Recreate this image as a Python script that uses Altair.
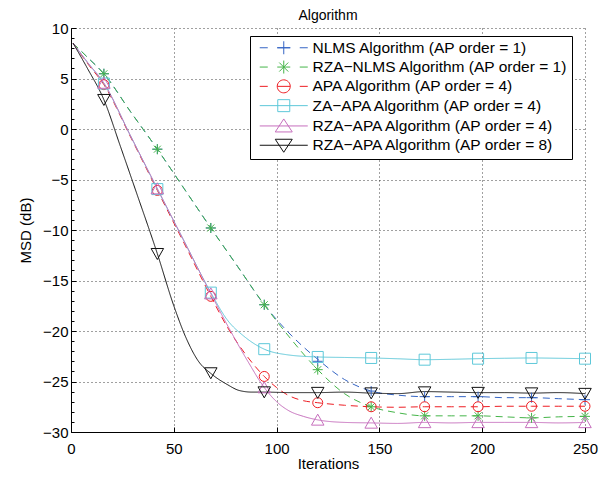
import altair as alt
import pandas as pd

# ---------------- data ----------------
SERIES = [
    "NLMS Algorithm (AP order = 1)",
    "RZA\u2212NLMS Algorithm (AP order = 1)",
    "APA Algorithm (AP order = 4)",
    "ZA\u2212APA Algorithm (AP order = 4)",
    "RZA\u2212APA Algorithm (AP order = 4)",
    "RZA\u2212APA Algorithm (AP order = 8)",
]

X_TICKS = [0, 50, 100, 150, 200, 250]
Y_TICKS = [-30, -25, -20, -15, -10, -5, 0, 5, 10]
Y_MINOR_TICKS = [-29, -28, -27, -26, -24, -23, -22, -21, -19, -18, -17, -16,
                 -14, -13, -12, -11, -9, -8, -7, -6, -4, -3, -2, -1,
                 1, 2, 3, 4, 6, 7, 8, 9]

MARKER_X = [16, 42, 68, 94, 120, 146, 172, 198, 224, 250]

NLMS_X = [1, 8, 16, 29, 42, 55, 68, 81, 94, 107, 120, 133, 146, 159, 172, 185, 198, 211, 224, 237, 250]
NLMS_Y = [8.5, 7.1, 5.47, 1.7, -2.0, -5.9, -9.8, -13.6, -17.4, -20.4, -22.8, -24.8, -25.95, -26.35,
          -26.5, -26.5, -26.5, -26.6, -26.6, -26.7, -26.8]
NLMS_M = [5.47, -2.0, -9.8, -17.4, -23.0, -25.95, -26.5, -26.5, -26.6, -26.8]

RZANLMS_X = [1, 8, 16, 29, 42, 55, 68, 81, 94, 107, 120, 133, 146, 159, 172, 185, 198, 211, 224, 237, 250]
RZANLMS_Y = [8.5, 7.1, 5.47, 1.7, -2.0, -5.9, -9.8, -13.6, -17.4, -20.8, -23.83, -26.2, -27.5, -28.1,
             -28.4, -28.4, -28.4, -28.5, -28.6, -28.5, -28.45]
RZANLMS_M = [5.47, -2.0, -9.8, -17.4, -23.83, -27.5, -28.4, -28.4, -28.6, -28.45]

APA_X = [1, 8, 16, 29, 42, 55, 68, 76, 86, 94, 100, 106, 113, 120, 133, 146, 159, 172, 185, 198, 211, 224, 237, 250]
APA_Y = [8.5, 6.5, 4.39, -0.8, -6.08, -11.3, -16.57, -19.6, -22.6, -24.5, -25.6, -26.4, -26.9, -27.1,
         -27.35, -27.5, -27.55, -27.5, -27.5, -27.5, -27.45, -27.45, -27.45, -27.45]
APA_M = [4.39, -6.08, -16.57, -24.5, -27.1, -27.5, -27.5, -27.5, -27.45, -27.45]

ZAAPA_X = [1, 8, 16, 29, 42, 55, 68, 76, 84, 94, 105, 120, 133, 146, 159, 172, 185, 198, 211, 224, 237, 250]
ZAAPA_Y = [8.5, 6.6, 4.5, -0.7, -5.95, -11.1, -16.2, -18.9, -20.5, -21.8, -22.35, -22.57, -22.62, -22.67,
           -22.75, -22.84, -22.8, -22.74, -22.7, -22.67, -22.7, -22.74]
ZAAPA_M = [4.5, -5.95, -16.2, -21.8, -22.57, -22.67, -22.84, -22.74, -22.67, -22.74]

RZAAPA4_X = [1, 8, 16, 29, 42, 55, 68, 76, 86, 94, 100, 106, 113, 120, 133, 146, 159, 172, 185, 198, 211, 224, 237, 250]
RZAAPA4_Y = [8.5, 6.6, 4.55, -0.7, -5.9, -11.1, -16.3, -19.4, -23.0, -25.6, -27.0, -27.9, -28.45, -28.8,
             -29.05, -29.1, -29.15, -29.05, -29.1, -29.05, -29.05, -29.05, -29.1, -29.05]
RZAAPA4_M = [4.55, -5.9, -16.3, -25.6, -28.8, -29.1, -29.05, -29.05, -29.05, -29.05]

RZAAPA8_X = [1, 8, 16, 24, 32, 42, 50, 56, 62, 68, 76, 82, 88, 94, 107, 120, 133, 146, 159, 172, 185, 198, 211, 224, 237, 250]
RZAAPA8_Y = [8.5, 6.0, 2.9, -1.7, -6.4, -12.35, -17.5, -20.7, -23.0, -24.2, -25.3, -25.9, -26.05, -26.05,
             -26.1, -26.1, -26.05, -26.15, -26.2, -26.0, -26.05, -26.1, -26.1, -26.15, -26.1, -26.2]
RZAAPA8_M = [2.9, -12.35, -24.16, -26.05, -26.1, -26.15, -26.05, -26.1, -26.15, -26.2]

LINES = [(NLMS_X, NLMS_Y), (RZANLMS_X, RZANLMS_Y), (APA_X, APA_Y),
         (ZAAPA_X, ZAAPA_Y), (RZAAPA4_X, RZAAPA4_Y), (RZAAPA8_X, RZAAPA8_Y)]
MARKS = [NLMS_M, RZANLMS_M, APA_M, ZAAPA_M, RZAAPA4_M, RZAAPA8_M]

# ---------------- styles ----------------
COLORS = ["#3565c4", "#45b549", "#ee1d23", "#5ec8d9", "#c66fbd", "#111111"]
DASHES = [[7, 5], [7, 5], [7, 5], [1, 0], [1, 0], [1, 0]]

MARKER_PATHS = [
    "M-1,0L1,0M0,-1L0,1",
    "M-1,0L1,0M0,-1L0,1M-0.7,-0.7L0.7,0.7M-0.7,0.7L0.7,-0.7",
    "M1,0A1,1,0,1,1,-1,0A1,1,0,1,1,1,0Z",
    "M-1.1,-1.1L1.1,-1.1L1.1,1.1L-1.1,1.1Z",
    "M0,-1.15L1.25,1.05L-1.25,1.05Z",
    "M0,1.15L1.25,-1.05L-1.25,-1.05Z",
]
DASHED_SEG = "M-4.8,0L-3.2,0M3.2,0L4.8,0M-1.3,0L1.3,0"
SOLID_SEG = "M-4.8,0L4.8,0"
LEGEND_PATHS = [
    DASHED_SEG + "M-1.3,0L1.3,0M0,-1.3L0,1.3",
    DASHED_SEG + "M0,-1.3L0,1.3M-0.9,-0.9L0.9,0.9M-0.9,0.9L0.9,-0.9",
    DASHED_SEG + "M1.3,0A1.3,1.3,0,1,1,-1.3,0A1.3,1.3,0,1,1,1.3,0Z",
    SOLID_SEG + "M-1.2,-1.2L1.2,-1.2L1.2,1.2L-1.2,1.2Z",
    SOLID_SEG + "M0,-1.4L1.7,1.2L-1.7,1.2Z",
    SOLID_SEG + "M0,1.4L1.7,-1.2L-1.7,-1.2Z",
]

FONT = "Liberation Sans"

# ---------------- tables ----------------
line_rows = []
for name, (xs, ys) in zip(SERIES, LINES):
    for xv, yv in zip(xs, ys):
        line_rows.append({"series": name, "x": xv, "y": yv})
line_df = pd.DataFrame(line_rows)

mark_rows = []
for name, ys in zip(SERIES, MARKS):
    for xv, yv in zip(MARKER_X, ys):
        mark_rows.append({"series": name, "x": xv, "y": yv})
mark_df = pd.DataFrame(mark_rows)

x_scale = alt.Scale(domain=[0, 250], nice=False, zero=False)
y_scale = alt.Scale(domain=[-30, 10], nice=False, zero=False)

common_axis = dict(labelFont=FONT, titleFont=FONT, labelFontSize=15, titleFontSize=15,
                   labelColor="black", titleColor="black", titleFontWeight="normal",
                   domainColor="black", domainWidth=1,
                   gridColor="#000000", gridOpacity=0.75, gridDash=[1, 3], gridWidth=1)

main_x_axis = alt.Axis(values=X_TICKS, title="Iterations", grid=True, ticks=False, tickSize=0,
                       labelPadding=9, titlePadding=0, labelFlush=False, **common_axis)
main_y_axis = alt.Axis(values=Y_TICKS, title="MSD (dB)", grid=True, ticks=False, tickSize=0,
                       labelPadding=3, titlePadding=9, labelFlush=False, **common_axis)

tick_x_axis = alt.Axis(orient="bottom", values=X_TICKS, offset=-5, tickSize=5, ticks=True,
                       labels=False, domain=False, grid=False, title=None,
                       tickColor="black", tickWidth=1)
tick_y_axis = alt.Axis(orient="left", values=Y_TICKS, offset=-5, tickSize=5, ticks=True,
                       labels=False, domain=False, grid=False, title=None,
                       tickColor="black", tickWidth=1)
minor_y_axis = alt.Axis(orient="left", values=Y_MINOR_TICKS, offset=-3, tickSize=3, ticks=True,
                        labels=False, domain=False, grid=False, title=None,
                        tickColor="black", tickWidth=1)

lines = alt.Chart(line_df).mark_line(strokeWidth=1, interpolate="monotone").encode(
    x=alt.X("x:Q", scale=x_scale, axis=main_x_axis),
    y=alt.Y("y:Q", scale=y_scale, axis=main_y_axis),
    color=alt.Color("series:N", scale=alt.Scale(domain=SERIES, range=COLORS), legend=None),
    strokeDash=alt.StrokeDash("series:N", scale=alt.Scale(domain=SERIES, range=DASHES), legend=None),
)

markers = alt.Chart(mark_df).mark_point(filled=False, size=100, strokeWidth=1, opacity=1).encode(
    x=alt.X("x:Q", scale=x_scale, axis=tick_x_axis),
    y=alt.Y("y:Q", scale=y_scale, axis=tick_y_axis),
    color=alt.Color("series:N", scale=alt.Scale(domain=SERIES, range=COLORS), legend=None),
    shape=alt.Shape("series:N", scale=alt.Scale(domain=SERIES, range=MARKER_PATHS), legend=None),
)

legend_props = dict(orient="none", legendX=179, legendY=8, title=None,
                    labelFont=FONT, labelFontSize=15.5, labelColor="black", labelLimit=500,
                    symbolSize=100, symbolStrokeWidth=1, symbolOpacity=1,
                    symbolOffset=22, labelOffset=21, rowPadding=1.3, padding=4,
                    strokeColor="black", fillColor="white", cornerRadius=0)

legend_layer = alt.Chart(mark_df).mark_point(filled=False, size=100, strokeWidth=1, opacity=0).encode(
    x=alt.X("x:Q", scale=x_scale, axis=None),
    y=alt.Y("y:Q", scale=y_scale, axis=minor_y_axis),
    color=alt.Color("series:N", scale=alt.Scale(domain=SERIES, range=COLORS),
                    legend=alt.Legend(**legend_props)),
    shape=alt.Shape("series:N", scale=alt.Scale(domain=SERIES, range=LEGEND_PATHS),
                    legend=alt.Legend(**legend_props)),
)

chart = alt.layer(lines, markers, legend_layer).resolve_scale(
    color="independent", shape="independent", strokeDash="independent"
).resolve_axis(
    x="independent", y="independent"
).properties(
    width=514, height=404,
    title=alt.Title("Algorithm", font=FONT, fontSize=14, fontWeight="normal", color="black",
                    anchor="middle", offset=2, dy=18, frame="group", baseline="bottom"),
    autosize=alt.AutoSizeParams(type="none"),
    padding={"left": 63, "top": 20, "right": 20, "bottom": 45},
).configure_view(stroke=None)

chart.save("out.html", embed_options={"renderer": "svg", "actions": False})
